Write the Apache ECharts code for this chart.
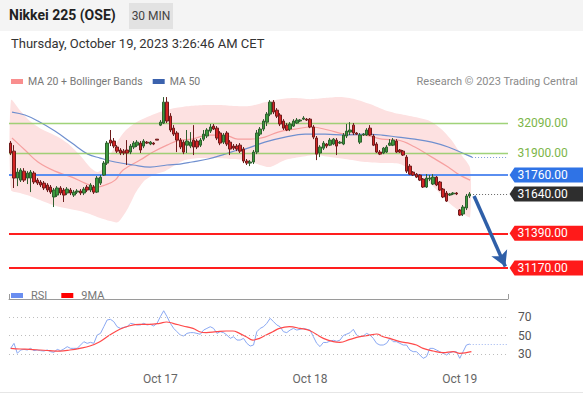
<!DOCTYPE html>
<html><head><meta charset="utf-8">
<script src="https://cdn.jsdelivr.net/npm/echarts@6/dist/echarts.min.js"></script>
<style>html,body{margin:0;padding:0;background:#fff}#c{width:583px;height:396px}</style>
</head><body><div id="c"></div>
<script>
// ---- candles (30 min) ----
const opens=[31963,31912,31741,31728,31785,31741,31741,31773,31728,31716,
31709,31697,31684,31621,31633,31678,31665,31646,31665,31633,
31652,31659,31646,31684,31665,31684,31652,31709,31760,31836,
31982,31976,31938,31919,31912,31919,31906,31938,31950,31963,
31944,31969,31957,31963,31988,32077,32090,32223,32134,32058,
32027,31982,31969,31950,31944,31982,31976,31950,31988,32008,
32039,32071,32058,32027,31969,32027,31969,31944,31944,31950,
31925,31849,31836,31843,31906,32020,32052,32096,32147,32223,
32172,32141,32103,32077,32052,32071,32090,32103,32115,32115,
32115,32065,31995,31900,31931,31957,31950,31957,31982,31963,
31957,32008,32033,32077,32027,31969,32014,32014,32058,32008,
31957,31906,31900,31906,31950,31950,31976,31919,31912,31874,
31817,31779,31766,31760,31735,31684,31735,31703,31747,31716,
31671,31646,31633,31640,31646,31538,31513,31551,31627];
const closes=[31900,31741,31779,31792,31728,31773,31779,31716,31709,31697,
31678,31665,31652,31665,31678,31646,31633,31671,31646,31652,
31659,31646,31671,31665,31697,31652,31741,31747,31836,31963,
31963,31944,31912,31900,31900,31900,31944,31963,31969,31919,
31976,31963,31969,31957,31982,32096,32223,32103,32046,32020,
31982,31938,31906,31976,31969,31938,31938,31982,32020,32046,
32065,32052,31995,31963,32014,31957,31925,31931,31925,31912,
31849,31836,31843,31906,32027,32052,32103,32147,32223,32160,
32134,32084,32058,32046,32084,32103,32109,32109,32122,32109,
32065,32001,31893,31938,31963,31944,31982,31988,31944,31969,
32014,32039,32046,32027,32020,32014,32020,32046,32014,31950,
31906,31893,31931,31938,31963,31982,31906,31906,31887,31785,
31766,31760,31747,31728,31684,31741,31741,31747,31697,31665,
31621,31595,31640,31646,31640,31506,31557,31627,31640];
const lows=[31887,31678,31690,31716,31716,31703,31652,31703,31697,31684,
31665,31652,31640,31557,31621,31633,31589,31633,31633,31621,
31640,31633,31633,31652,31652,31640,31646,31697,31754,31824,
31944,31931,31900,31887,31887,31824,31893,31925,31938,31900,
31931,31957,31950,31950,31982,32071,32084,32090,32033,32008,
31906,31925,31893,31900,31931,31887,31925,31938,31976,31995,
32027,32046,31982,31950,31957,31944,31887,31919,31912,31900,
31836,31824,31817,31830,31893,32008,32039,32071,32134,32147,
32122,32071,32046,32039,32039,32065,32084,32096,32109,32103,
32058,31988,31855,31874,31919,31931,31944,31950,31887,31957,
31950,31995,32014,32014,32014,31957,32008,32008,32008,31944,
31900,31887,31893,31900,31944,31944,31900,31900,31881,31773,
31760,31754,31741,31722,31678,31678,31722,31697,31690,31659,
31614,31589,31627,31633,31633,31500,31500,31538,31614];
const highs=[31976,31950,31804,31804,31804,31785,31792,31785,31741,31728,
31722,31709,31697,31678,31690,31690,31678,31684,31678,31665,
31671,31671,31684,31697,31709,31697,31754,31760,31849,31976,
32046,31995,31950,31931,31925,31982,31957,31976,31982,31976,
31988,31976,31976,31969,31988,32109,32255,32255,32153,32077,
32039,31995,31982,32046,32033,32077,31988,31995,32046,32058,
32084,32084,32071,32039,32027,32039,31982,31957,31957,31963,
31938,31862,31855,31919,32046,32065,32115,32160,32236,32236,
32185,32153,32115,32090,32096,32115,32122,32115,32134,32122,
32122,32077,32008,31950,31976,31963,31995,31995,31995,31976,
32027,32084,32096,32090,32033,32027,32027,32058,32077,32020,
31969,31919,31938,31950,31988,31995,31988,31925,31919,31887,
31830,31785,31773,31766,31741,31766,31760,31766,31754,31722,
31678,31659,31646,31652,31652,31544,31570,31640,31652];

// ---- indicators: [bar position, value] ----
const ma20=[[0.9,31995],[4.8,31919],[8.7,31843],[13.8,31785],[18.9,31747],[22.8,31709],[26.5,31684],[28.9,31697],[31.9,31728],[34.3,31792],[39.4,31855],[43.3,31906],[47.5,31950],[51.4,31982],[55.0,31988],[59.8,32014],[64.9,32014],[68.8,31988],[72.4,31988],[76.9,32001],[80.9,32033],[86.0,32052],[91.1,32065],[95.9,32046],[101.0,32020],[107.0,32014],[112.1,31988],[116.9,31982],[122.0,31938],[127.1,31874],[132.0,31811],[135.0,31766],[138.6,31728]];
const ma50=[[0.9,32160],[4.8,32141],[8.7,32103],[13.8,32039],[18.9,31963],[23.7,31893],[27.4,31868],[31.9,31843],[37.3,31824],[42.4,31811],[47.5,31824],[51.4,31830],[55.0,31843],[59.8,31862],[64.9,31893],[68.8,31919],[70.9,31925],[76.9,31969],[83.0,32001],[89.0,32020],[95.0,32020],[101.0,32014],[107.0,32020],[112.1,32014],[116.9,32001],[122.0,31988],[127.1,31969],[132.0,31938],[137.1,31893],[139.2,31874]];
const bbUpper=[[0.6,32236],[3.3,32172],[6.3,32103],[9.3,32058],[12.3,32027],[15.3,31995],[18.3,31950],[21.3,31887],[24.3,31811],[26.5,31779],[28.3,31804],[30.4,31887],[32.5,31969],[34.9,32039],[37.9,32090],[40.9,32122],[45.4,32160],[49.9,32185],[54.4,32198],[58.9,32204],[63.4,32204],[67.9,32198],[72.4,32198],[76.9,32223],[81.5,32242],[86.0,32249],[90.5,32242],[95.0,32249],[99.5,32255],[104.0,32242],[108.5,32211],[113.0,32172],[117.5,32147],[122.0,32128],[126.5,32103],[129.9,32052],[133.0,31982],[136.0,31887],[138.6,31804]];
const bbLower=[[0.6,31665],[3.3,31646],[6.3,31627],[9.3,31601],[12.3,31576],[15.3,31557],[18.3,31544],[21.3,31532],[24.3,31513],[27.4,31487],[30.4,31468],[32.8,31462],[35.8,31551],[38.2,31652],[40.9,31728],[43.9,31766],[46.9,31785],[49.9,31824],[52.9,31855],[57.4,31868],[61.9,31868],[66.4,31862],[70.9,31855],[75.4,31824],[78.5,31811],[83.0,31855],[87.5,31874],[92.0,31887],[96.5,31874],[101.0,31862],[107.0,31843],[113.0,31836],[117.5,31830],[122.0,31779],[127.1,31697],[132.0,31589],[137.1,31506],[138.6,31493]];
const rsi=[36.1,41.5,30.7,34.3,35.0,34.3,36.1,33.6,34.3,33.6,
33.2,34.3,32.5,31.8,35.0,33.6,35.4,37.9,36.1,36.1,
36.1,39.7,43.3,41.5,42.6,41.5,50.5,52.3,59.5,66.8,
67.5,65.0,59.5,57.7,58.8,59.5,63.2,62.4,61.4,61.4,
63.2,61.4,62.1,60.3,63.2,70.4,76.8,70.4,63.2,57.7,
54.1,50.5,49.5,52.3,53.1,53.1,52.3,51.3,55.9,57.7,
59.5,57.7,52.3,54.1,53.1,50.5,46.9,48.7,45.1,45.1,
46.9,41.5,38.6,39.7,54.1,57.7,59.5,63.2,68.6,65.0,
61.4,59.5,54.1,53.1,55.9,57.7,55.9,56.7,57.7,56.7,
55.9,48.7,41.5,38.0,42.5,42.4,44.0,44.8,43.8,45.0,
50.0,51.5,53.0,56.7,50.5,48.7,49.5,52.3,50.5,46.9,
41.5,39.7,39.7,41.5,46.9,43.3,43.3,41.5,39.7,39.7,
34.3,32.5,32.5,28.9,25.3,27.1,36.1,36.1,34.3,32.5,
30.7,28.9,31.4,32.5,32.5,25.3,32.5,39.7,40.8];
const rsi9ma=[[0.5,36.1],[3.3,35.4],[6.3,35.0],[9.3,34.3],[12.3,33.6],[15.3,33.2],[18.3,34.3],[21.3,36.1],[24.3,38.6],[27.3,43.3],[30.3,50.5],[33.3,56.7],[36.3,60.6],[39.3,62.1],[42.3,62.1],[45.3,63.2],[47.3,64.6],[49.3,63.2],[52.3,60.3],[55.3,57.7],[57.3,54.1],[59.3,53.1],[62.3,54.1],[65.3,54.9],[67.3,54.9],[69.3,52.3],[71.3,48.7],[73.3,45.1],[75.3,46.9],[77.3,50.5],[79.3,54.1],[81.3,57.7],[84.3,59.5],[87.5,57.7],[90.5,55.2],[94.5,46.9],[97.5,43.3],[99.5,42.6],[102.5,45.8],[105.5,48.7],[108.5,50.5],[110.5,51.6],[112.5,48.7],[114.5,46.9],[117.5,43.3],[120.5,41.5],[122.5,39.7],[124.5,36.1],[127.5,33.2],[130.5,31.4],[133.5,32.5],[135.5,30.7],[137.5,31.4],[139.0,32.5]];

// ---- levels, ticks, labels ----
const resistLevels=[32090,31900];
const pivotLevel=31760;
const lastPrice=31640;
const supportLevels=[31390,31170];
const forecast=[[139.8,31627],[149.2,31180]];
const rsiTicks=[30,50,70];
const dateTickIdx=[45,90,135];
const dateTickLabels=['Oct 17','Oct 18','Oct 19'];

// ---- build options ----
const N_MAIN=172, N_RSI=150, LINE_END=150, BOX_X=161.6;
const mainCats=Array.from({length:N_MAIN},(_,i)=>String(i));
const rsiCats=Array.from({length:N_RSI},(_,i)=>{const k=dateTickIdx.indexOf(i);return k>=0?dateTickLabels[k]:'';});
const candles=opens.map((o,i)=>[o,closes[i],lows[i],highs[i]]);
const lastIdx=closes.length-1;
const FONT='Roboto, sans-serif';
const BOX='path://M0,7L5,0L74,0L74,14L5,14Z';
function hline(v,style,x0){return [{coord:[x0==null?0:x0,v],symbol:'none',lineStyle:style},{coord:[LINE_END,v],symbol:'none',lineStyle:style}];}
function box(v,fill,txtColor){return {coord:[BOX_X,v],value:v,symbol:BOX,symbolSize:[74,15],symbolKeepAspect:false,itemStyle:{color:fill},
  label:{show:true,position:'inside',offset:[-4,0],formatter:p=>p.value.toFixed(2),color:txtColor,fontSize:12,fontFamily:FONT}};}

const levelLines=[];
resistLevels.forEach(v=>levelLines.push(hline(v,{color:'#8fcb62',width:1.3,type:'solid',opacity:0.85})));
levelLines.push(hline(pivotLevel,{color:'#5a8ef0',width:2,type:'solid'}));
supportLevels.forEach(v=>levelLines.push(hline(v,{color:'#ff1e1e',width:2,type:'solid'})));
levelLines.push(hline(lastPrice,{color:'#666',width:1,type:[1,2]},lastIdx+1.5));
levelLines.push(hline(ma50[ma50.length-1][1],{color:'#7b9bd6',width:1,type:[1,2]},ma50[ma50.length-1][0]));
const arrowStyle={color:'#2f5fa8',width:3.5,type:'solid'};
const arrowLine=[{coord:forecast[0],symbol:'none',lineStyle:arrowStyle},{coord:forecast[1],symbol:'arrow',symbolSize:[13,15],lineStyle:arrowStyle}];

const labelBoxes=[];
resistLevels.forEach(v=>labelBoxes.push(box(v,'rgba(0,0,0,0)','#7cb548')));
labelBoxes.push(box(pivotLevel,'#2f73e6','#fff'));
labelBoxes.push(box(lastPrice,'#2e2e2e','#fff'));
supportLevels.forEach(v=>labelBoxes.push(box(v,'#ff1a1a','#fff')));

const chart=echarts.init(document.getElementById('c'),null,{renderer:'svg'});
chart.setOption({
  animation:false,
  backgroundColor:'#fff',
  textStyle:{fontFamily:FONT},
  graphic:[
    {type:'rect',z:-10,shape:{x:0,y:0,width:583,height:31},style:{fill:'#f4f4f4'}},
    {type:'rect',z:-9,shape:{x:129,y:3,width:44,height:26},style:{fill:'#e2e2e2'}},
    {type:'text',z:5,x:151,y:16,style:{text:'30 MIN',font:'12px '+FONT,fill:'#444',align:'center',verticalAlign:'middle'}},
    {type:'rect',z:-10,shape:{x:0,y:392,width:583,height:1},style:{fill:'#e6e6e6'}}
  ],
  title:[
    {text:'Nikkei 225 (OSE)',left:9,top:8,padding:0,textStyle:{fontSize:14,fontWeight:'bold',color:'#222',fontFamily:FONT}},
    {text:'Thursday, October 19, 2023 3:26:46 AM CET',left:11,top:37,padding:0,textStyle:{fontSize:13,fontWeight:'normal',color:'#333',fontFamily:FONT}},
    {text:'Research © 2023 Trading Central',right:5,top:76,padding:0,textStyle:{fontSize:11,fontWeight:'normal',color:'#8a8a8a',fontFamily:FONT}}
  ],
  legend:[
    {left:11,top:76,padding:0,icon:'rect',itemWidth:12,itemHeight:5,itemGap:10,selectedMode:false,
     textStyle:{fontSize:10.5,color:'#777',fontFamily:FONT},
     data:[{name:'MA 20 + Bollinger Bands',itemStyle:{color:'#f98e8e'}},{name:'MA 50',itemStyle:{color:'#3b62ad'}}]},
    {left:11,top:290,padding:0,icon:'rect',itemWidth:12,itemHeight:5,itemGap:14,selectedMode:false,
     textStyle:{fontSize:11,color:'#777',fontFamily:FONT,padding:[0,0,0,3]},
     data:[{name:'RSI',itemStyle:{color:'#6a8ef0'}},{name:'9MA',itemStyle:{color:'#ff0000'}}]}
  ],
  grid:[
    {left:9,top:90,width:N_MAIN*499/N_RSI,height:190},
    {left:9,top:299,width:499,height:67}
  ],
  xAxis:[
    {type:'category',gridIndex:0,data:mainCats,boundaryGap:true,show:false},
    {type:'value',gridIndex:0,min:0,max:N_MAIN,show:false},
    {type:'category',gridIndex:1,data:rsiCats,boundaryGap:true,axisLine:{show:false},axisTick:{show:false},
     axisLabel:{interval:(i)=>dateTickIdx.indexOf(i)>=0,color:'#666',fontSize:12,margin:7,fontFamily:FONT},splitLine:{show:false}},
    {type:'value',gridIndex:1,min:0,max:N_RSI,interval:N_RSI,axisLine:{show:true,lineStyle:{color:'#9a9a9a',width:1}},
     axisTick:{show:true,length:5,lineStyle:{color:'#9a9a9a'}},axisLabel:{show:false},splitLine:{show:false}}
  ],
  yAxis:[
    {type:'value',gridIndex:0,min:31094,max:32300,show:false,scale:true},
    {type:'value',gridIndex:1,min:17,max:89.5,position:'right',axisLine:{show:false},axisTick:{show:false},splitLine:{show:false},
     axisLabel:{customValues:rsiTicks,color:'#555',fontSize:12,margin:10,fontFamily:FONT}}
  ],
  series:[
    {type:'custom',name:'band',xAxisIndex:1,yAxisIndex:0,z:1,silent:true,data:[[70,31800]],
     renderItem:function(params,api){
       const up=bbUpper.map(p=>api.coord(p));
       const lo=bbLower.map(p=>api.coord(p)).reverse();
       return {type:'polygon',shape:{points:up.concat(lo),smooth:0.25},style:{fill:'#fde1e1'}};
     }},
    {type:'line',name:'levels',xAxisIndex:1,yAxisIndex:0,z:2,data:[],silent:true,
     markLine:{silent:true,symbol:['none','none'],label:{show:false},animation:false,data:levelLines}},
    {type:'line',name:'MA 20 + Bollinger Bands',xAxisIndex:1,yAxisIndex:0,z:3,data:ma20,smooth:0.4,showSymbol:false,silent:true,
     lineStyle:{color:'#f6a0a0',width:1.2},itemStyle:{color:'#f98e8e'}},
    {type:'line',name:'MA 50',xAxisIndex:1,yAxisIndex:0,z:3,data:ma50,smooth:0.4,showSymbol:false,silent:true,
     lineStyle:{color:'#6f8fcf',width:1.2},itemStyle:{color:'#3b62ad'}},
    {type:'candlestick',name:'price',xAxisIndex:0,yAxisIndex:0,z:5,data:candles,barWidth:3,silent:true,
     itemStyle:{color:'#3c9a3c',color0:'#d42424',borderColor:'#2f5f2f',borderColor0:'#6e1c1c',borderWidth:1}},
    {type:'line',name:'annot',xAxisIndex:1,yAxisIndex:0,z:6,data:[],silent:true,
     markLine:{silent:true,symbol:['none','none'],label:{show:false},animation:false,data:[arrowLine]},
     markPoint:{silent:true,animation:false,data:labelBoxes}},
    {type:'line',name:'RSI',xAxisIndex:2,yAxisIndex:1,data:rsi,showSymbol:false,silent:true,
     lineStyle:{color:'#8aa8f2',width:1},itemStyle:{color:'#6a8ef0'},
     markLine:{silent:true,symbol:['none','none'],label:{show:false},animation:false,
       data:rsiTicks.map(v=>({yAxis:v,lineStyle:{color:'#bdbdbd',width:1,type:[1,3]}}))}},
    {type:'line',name:'9MA',xAxisIndex:3,yAxisIndex:1,data:rsi9ma,smooth:0.4,showSymbol:false,silent:true,
     lineStyle:{color:'#ff4a4a',width:1.2},itemStyle:{color:'#ff0000'},
     markLine:{silent:true,symbol:['none','none'],label:{show:false},animation:false,
       data:[[{coord:[lastIdx+0.5,rsi[lastIdx]]},{coord:[N_RSI,rsi[lastIdx]],lineStyle:{color:'#9db4f0',width:1,type:[1,2]}}]]}}
  ]
});
</script></body></html>
